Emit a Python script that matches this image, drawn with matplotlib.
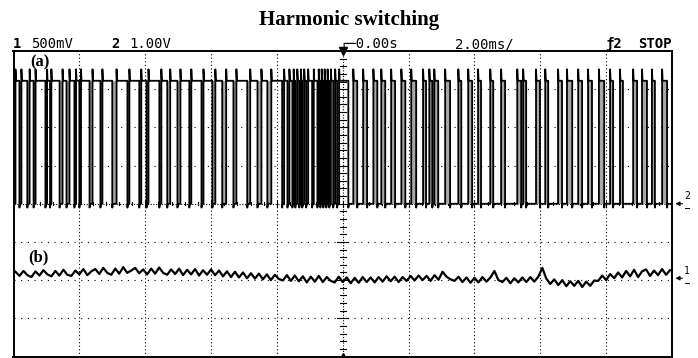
import numpy as np
import matplotlib.pyplot as plt

# scope settings
time_scale = 2.00     # ms/div
ch1_scale = 500.0     # mV/div
ch2_scale = 1.00      # V/div
ch1_ground = 2.0      # div from bottom
ch2_ground = 4.0

# channel 2 (a): switching waveform, edge times in ms, trace starts low
ch2_low = 0.0
ch2_high = 3.22
ch2_edges = [
    -9.94, -9.82, -9.76, -9.58, -9.51, -9.39, -9.33, -9.03, -8.98, -8.89,
    -8.85, -8.60, -8.51, -8.39, -8.30, -8.15, -8.10, -8.00, -7.95, -7.69,
    -7.60, -7.36, -7.30, -7.00, -6.87, -6.54, -6.48, -6.18, -6.12, -5.96,
    -5.90, -5.57, -5.51, -5.33, -5.24, -5.02, -4.93, -4.66, -4.60, -4.29,
    -4.23, -3.96, -3.87, -3.66, -3.54, -3.32, -3.23, -2.90, -2.81, -2.59,
    -2.47, -2.29, -2.17, -1.84, -1.78, -1.68, -1.62, -1.53, -1.49, -1.44,
    -1.38, -1.32, -1.27, -1.23, -1.17, -1.11, -1.05, -0.93, -0.88, -0.77,
    -0.73, -0.68, -0.64, -0.59, -0.55, -0.50, -0.46, -0.41, -0.36, -0.29,
    -0.23, -0.17, -0.11,
    0.17, 0.32, 0.44, 0.62, 0.74, 0.93, 1.05, 1.17, 1.29, 1.47,
    1.59, 1.78, 1.90, 2.08, 2.23, 2.44, 2.53, 2.63, 2.72, 2.78,
    2.90, 3.11, 3.26, 3.51, 3.60, 3.81, 3.93, 4.11, 4.20, 4.48,
    4.57, 4.81, 4.93, 5.30, 5.42, 5.48, 5.57, 5.87, 5.99, 6.15,
    6.24, 6.54, 6.66, 6.81, 6.97, 7.15, 7.27, 7.45, 7.57, 7.78,
    7.94, 8.12, 8.21, 8.42, 8.51, 8.82, 8.94, 9.09, 9.24, 9.39,
    9.48, 9.70, 9.85,
]

# channel 1 (b): ripple in mV
ch1_mv = [
    110, 55, 120, 65, 40, 115, 60, 130, 75, 50,
    120, 60, 135, 70, 55, 125, 75, 145, 65, 115,
    145, 80, 160, 95, 70, 150, 85, 170, 95, 125,
    160, 90, 140, 75, 150, 85, 165, 95, 70, 140,
    80, 150, 65, 135, 75, 145, 60, 130, 70, 140,
    65, 125, 50, 115, 40, 110, 35, 100, 25, 90,
    20, 85, 10, 75, 0, 70, 15, -5, 65, -10,
    60, -15, 50, -30, 45, -20, 55, -25, 40, -10,
    -30, 45, -25, 35, -40, 30, -35, 40, -25, 35,
    -30, 40, -20, 50, -15, 45, -25, 40, -10, 55,
    -5, 60, 0, 55, -10, 65, 5, 110, 45, 10,
    -10, 45, -25, 35, -35, 30, -30, 40, -20, 35,
    120, 0, -25, 30, -40, 25, -30, 35, -25, 40,
    -20, 45, 160, 20, -50, 10, -65, 0, -80, -15,
    -75, -10, -90, -20, -75, -5, -10, 60, 0, 80,
    25, 100, 35, 120, 50, 135, 40, 115, 140, 55,
    125, 65, 145, 70, 130,
]

fig = plt.figure(figsize=(6.98, 3.58), dpi=100)
ax = fig.add_axes([13.5 / 698, 1.5 / 358, 658.5 / 698, 305.5 / 358])
ax.set_xlim(-5 * time_scale, 5 * time_scale)
ax.set_ylim(0, 8)
ax.set_xticks([])
ax.set_yticks([])
for s in ax.spines.values():
    s.set_linewidth(1.4)

# graticule
for k in range(1, 10):
    if k == 5:
        continue
    ax.axvline((k - 5) * time_scale, color='k', lw=0.8, ls=(0, (1, 2.2)), zorder=1)
for k in range(1, 8):
    if k == 4:
        continue
    ax.axhline(k, color='k', lw=0.8, ls=(0, (1, 5)), zorder=1)
# centre axes with ticks
ax.axvline(0, color='k', lw=0.8, ls=(0, (1, 1.5)), zorder=1)
ax.axhline(4, color='k', lw=0.8, ls=(0, (1, 1.5)), zorder=1)
for i in range(1, 40):
    big = i % 5 == 0
    h = 0.17 if big else 0.09
    ax.plot([-h, h], [i * 0.2, i * 0.2], color='k', lw=0.8, zorder=1)
for i in range(-25, 26):
    big = i % 5 == 0
    h = 0.08 if big else 0.045
    ax.plot([i * 0.4, i * 0.4], [4 - h, 4 + h], color='k', lw=0.8, zorder=1)
ax.plot(0, 8, marker='v', color='k', ms=6, clip_on=False, zorder=5)
ax.plot(0, 0, marker='^', color='k', ms=6, clip_on=False, zorder=5)

# channel 2 trace
lo = ch2_ground + ch2_low / ch2_scale
hi = ch2_ground + ch2_high / ch2_scale
ts = [-10.0]
vs = [lo]
state = 0
prev = -10.0
for e in ch2_edges:
    # shade the narrow pulses (gray persistence between the two edges)
    if state != (1 if prev < 0 else 0) and e - prev < 0.2:
        ax.fill_between([prev, e], lo, hi, color='#a8a8a8', lw=0, zorder=2)
    if state == 0:
        ts += [e, e, e + 0.015]
        vs += [lo, hi + 0.3, hi]
        state = 1
    else:
        ts += [e, e, e + 0.015]
        vs += [hi, lo - 0.1, lo]
        state = 0
    prev = e
ts.append(10.0)
vs.append(lo if state == 0 else hi)
ax.plot(ts, vs, color='k', lw=1.3, zorder=3)

# channel 1 trace
t1 = np.linspace(-9.94, 9.94, len(ch1_mv))
ax.plot(t1, ch1_ground + np.array(ch1_mv) / ch1_scale, color='k', lw=1.6, zorder=3)

# trace labels
ax.text(-9.5, 7.7, '(a)', family='Liberation Serif', weight='bold', fontsize=12, va='center', ha='left')
ax.text(-9.55, 2.6, '(b)', family='Liberation Serif', weight='bold', fontsize=12, va='center', ha='left')

# ground markers on the right
for lvl, name in [(ch2_ground, '2'), (ch1_ground + 0.05, '1')]:
    ax.annotate('', xy=(10.02, lvl), xytext=(10.4, lvl),
                arrowprops=dict(arrowstyle='-|>', color='k', lw=0.8, mutation_scale=6),
                annotation_clip=False)
    ax.text(10.45, lvl + 0.2, name, fontsize=7, family='DejaVu Sans Mono', ha='center', va='center', clip_on=False)
    ax.plot([10.38, 10.52], [lvl - 0.12, lvl - 0.12], color='k', lw=0.7, clip_on=False)

# header
mono = 'DejaVu Sans Mono'
fig.text(349 / 698, 1 - 20 / 358, 'Harmonic switching', family='Liberation Serif', weight='bold',
         fontsize=15, ha='center', va='center')
hy = 1 - 44 / 358
fig.text(13 / 698, hy, '1', family=mono, weight='bold', fontsize=10, va='center')
fig.text(31 / 698, hy, '500mV', family=mono, fontsize=10, va='center')
fig.text(111 / 698, hy, '2', family=mono, weight='bold', fontsize=10, va='center')
fig.text(129 / 698, hy, '1.00V', family=mono, fontsize=10, va='center')
fig.text(339 / 698, hy, '┌─0.00s', family=mono, fontsize=10, va='center')
fig.text(455 / 698, hy, '2.00ms/', family=mono, fontsize=10, va='center')
fig.text(605 / 698, hy, 'ƒ2', family=mono, weight='bold', fontsize=10, va='center')
fig.text(672 / 698, hy, 'STOP', family=mono, weight='bold', fontsize=10, va='center', ha='right')

fig.savefig('out.png', dpi=100)
